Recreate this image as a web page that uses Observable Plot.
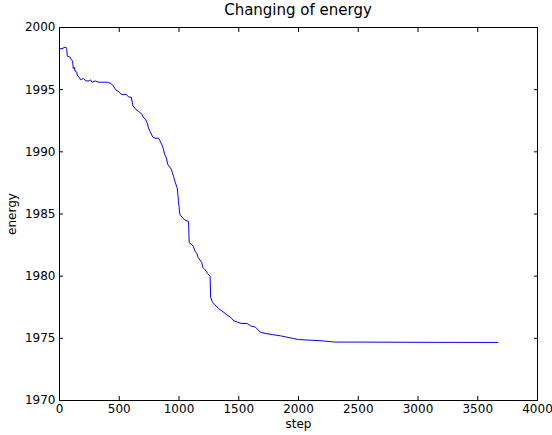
<!DOCTYPE html>
<html>
<head>
<meta charset="utf-8">
<script src="https://cdn.jsdelivr.net/npm/d3@7"></script>
<script src="https://cdn.jsdelivr.net/npm/@observablehq/plot@0.6"></script>
<style>
  body { margin: 0; background: white; font-family: "DejaVu Sans", sans-serif; }
  #title { height: 20px; width: 552px; position: relative; }
  #title span { position: absolute; left: 298px; top: 1px; transform: translateX(-50%); font-size: 15px; white-space: nowrap; }
</style>
</head>
<body>
<div id="title"><span>Changing of energy</span></div>
<div id="chart"></div>
<script>
const steps = [0,30,35,55,60,65,90,100,110,115,125,130,145,150,165,175,200,220,250,260,270,300,330,350,400,430,450,470,500,520,560,580,600,615,640,670,690,700,720,735,745,760,780,800,830,845,860,870,880,895,905,920,935,945,955,970,985,990,995,1000,1005,1010,1030,1050,1080,1085,1100,1120,1135,1150,1160,1175,1190,1200,1220,1240,1260,1265,1280,1300,1330,1360,1400,1430,1460,1490,1520,1570,1600,1640,1680,1720,1780,1850,1900,1950,2000,2100,2200,2300,2500,3000,3669];
const energy = [1998.3,1998.3,1998.4,1998.4,1998.3,1997.7,1997.6,1997.4,1997.3,1996.7,1996.8,1996.5,1996.4,1996.1,1996.0,1995.8,1995.9,1995.7,1995.7,1995.8,1995.6,1995.7,1995.6,1995.6,1995.6,1995.5,1995.3,1995.0,1994.8,1994.6,1994.6,1994.4,1994.4,1993.7,1993.4,1993.2,1993.0,1992.8,1992.6,1992.3,1991.9,1991.6,1991.2,1991.1,1991.1,1990.8,1990.5,1990.2,1989.8,1989.5,1989.0,1988.8,1988.6,1988.3,1988.0,1987.5,1987.1,1986.6,1986.1,1985.6,1985.1,1984.9,1984.7,1984.5,1984.4,1982.7,1982.6,1982.4,1982.0,1981.8,1981.5,1981.3,1981.1,1980.7,1980.5,1980.2,1980.0,1978.3,1977.9,1977.7,1977.4,1977.2,1976.9,1976.7,1976.4,1976.3,1976.2,1976.2,1976.0,1975.9,1975.5,1975.4,1975.3,1975.2,1975.1,1975.0,1974.9,1974.85,1974.8,1974.7,1974.7,1974.68,1974.67];
const xTicks = [0,500,1000,1500,2000,2500,3000,3500,4000];
const yTicks = [1970,1975,1980,1985,1990,1995,2000];

const data = steps.map((s, i) => ({step: s, energy: energy[i]}));

const chart = Plot.plot({
  width: 552,
  height: 415,
  marginTop: 7,
  marginBottom: 35,
  marginLeft: 59,
  marginRight: 15,
  style: {fontFamily: "DejaVu Sans, sans-serif", fontSize: "12px", color: "black", background: "white"},
  x: {domain: [0, 4000]},
  y: {domain: [1970, 2000]},
  marks: [
    Plot.line(data, {x: "step", y: "energy", stroke: "#0000ff", strokeWidth: 1}),
    Plot.frame({stroke: "black"}),
    Plot.axisX({anchor: "bottom", ticks: xTicks, tickSize: -4, tickPadding: 8, tickFormat: d3.format("d"), label: "step", labelAnchor: "center", labelArrow: "none", labelOffset: 27, fontSize: 12}),
    Plot.axisX({anchor: "top", ticks: xTicks, tickSize: -4, tickFormat: () => "", label: null}),
    Plot.axisY({anchor: "left", ticks: yTicks, tickSize: -4, tickPadding: 8, tickFormat: d3.format("d"), label: "energy", labelAnchor: "center", labelArrow: "none", labelOffset: 52, fontSize: 12}),
    Plot.axisY({anchor: "right", ticks: yTicks, tickSize: -4, tickFormat: () => "", label: null})
  ]
});
document.getElementById("chart").appendChild(chart);
</script>
</body>
</html>
